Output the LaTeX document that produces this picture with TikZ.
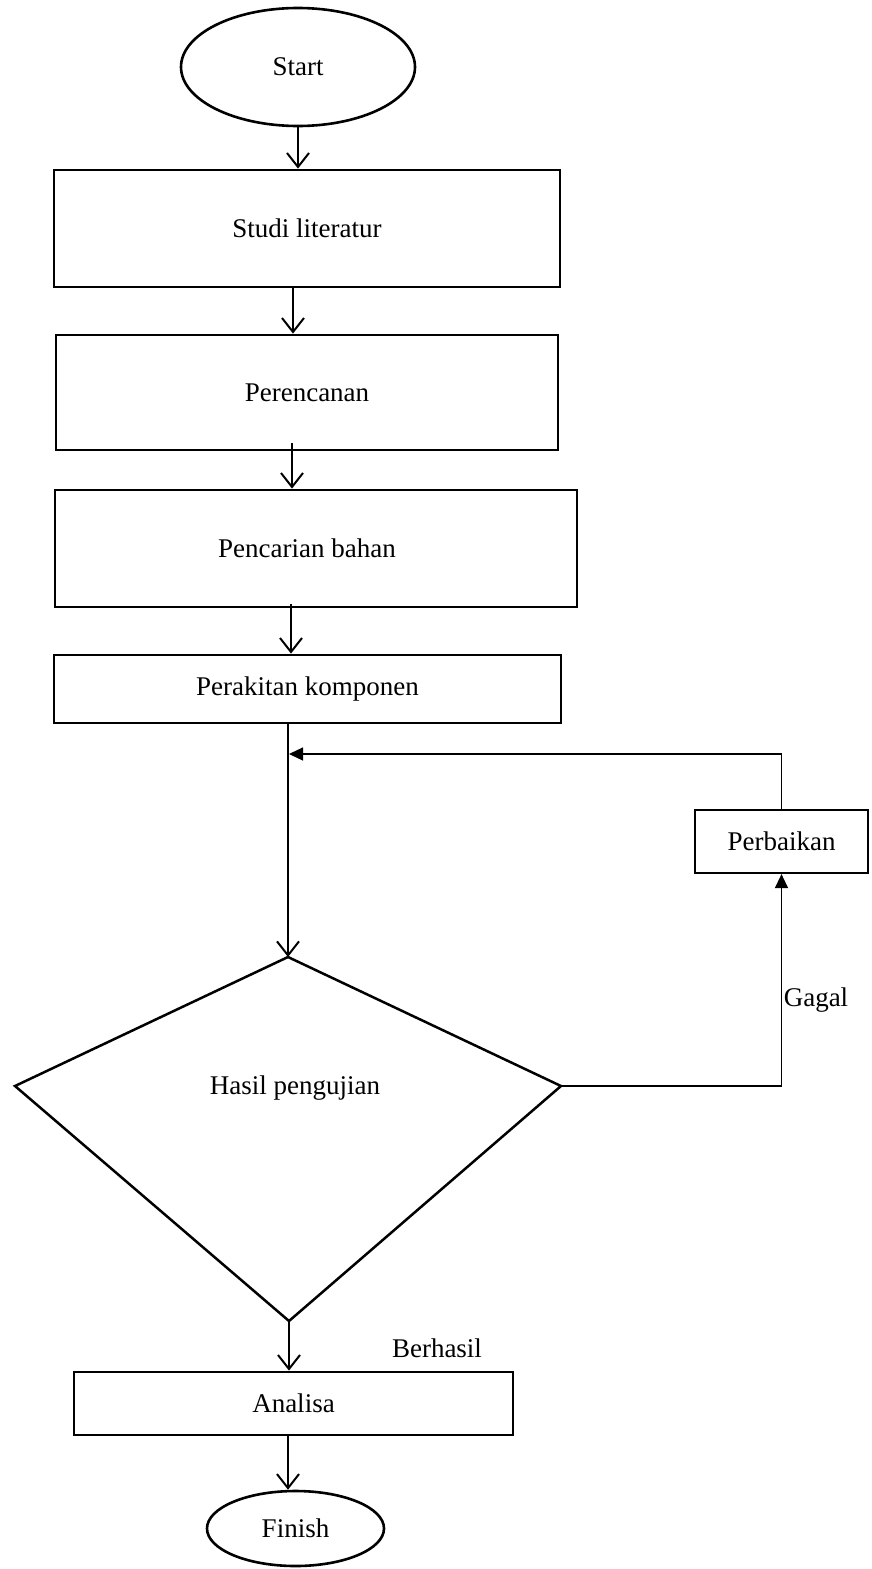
\documentclass[tikz,border=0pt]{standalone}
\usepackage{fontspec}
\setmainfont{Liberation Serif}
\usetikzlibrary{arrows.meta,shapes.geometric}
\begin{document}
\begin{tikzpicture}[x=1pt,y=-1pt,
  box/.style={draw,line width=2.8pt,rectangle,inner sep=0pt,font=\fontsize{27}{32}\selectfont},
  oval/.style={draw,line width=2.6pt,ellipse,inner sep=0pt,font=\fontsize{27}{32}\selectfont},
  lbl/.style={inner sep=0pt,font=\fontsize{27}{32}\selectfont},
  arr/.style={line width=2pt,-{Straight Barb[length=14pt,width=22pt,line width=2pt]}},
  fb/.style={line width=1.3pt,-{Triangle[length=14pt,width=13pt]}}]
\fill[white] (0,0) rectangle (871,1569);
\useasboundingbox (0,0) rectangle (871,1569);
% nodes
\node[oval,minimum width=234pt,minimum height=118pt] (start) at (298,67) {Start};
\node[box,minimum width=506pt,minimum height=117pt] (studi) at (307,228.5) {Studi literatur};
\node[box,minimum width=502pt,minimum height=115pt] (pere) at (307,392.5) {Perencanan};
\node[box,minimum width=522pt,minimum height=117pt] (penc) at (316,548.5) {Pencarian bahan\hspace*{18pt}};
\node[box,minimum width=507pt,minimum height=68pt] (perak) at (307.5,689) {Perakitan komponen};
\node[box,minimum width=173pt,minimum height=63pt,line width=2.2pt] (perb) at (781.5,841.5) {Perbaikan};
\node[box,minimum width=439pt,minimum height=63pt] (anal) at (293.5,1403.5) {Analisa};
\node[oval,minimum width=177pt,minimum height=75pt] (fin) at (295.5,1528.5) {Finish};
% decision
\coordinate (dtop) at (288,957);
\coordinate (dleft) at (15,1086);
\coordinate (dright) at (561,1086);
\coordinate (dbot) at (289,1321);
\draw[line width=2.5pt,line join=miter] (dtop) -- (dright) -- (dbot) -- (dleft) -- cycle;
\node[lbl] (hasil) at (295,1088) {Hasil pengujian};
\node[lbl] (gagal) at (816,1000) {Gagal};
\node[lbl] (berh) at (437,1348) {Berhasil};
% x columns
\coordinate (c2) at (293,0);
\coordinate (c3) at (292,0);
\coordinate (c4) at (291,0);
\coordinate (mx) at (288,754);
% connectors
\draw[arr] (start.south) -- (start.south |- studi.north);
\draw[arr] (studi.south -| c2) -- (pere.north -| c2);
\draw[arr] ([yshift=8pt]pere.south -| c3) -- (penc.north -| c3);
\draw[arr] ([yshift=4pt]penc.south -| c4) -- (perak.north -| c4);
\draw[arr] (perak.south -| mx) -- (dtop);
\draw[arr] (dbot) -- (dbot |- anal.north);
\draw[arr] (anal.south -| dtop) -- (fin.north -| dtop);
\draw[fb] (perb.north) |- ([xshift=1pt]mx);
\draw[fb] (dright) -| (perb.south);
\end{tikzpicture}
\end{document}
